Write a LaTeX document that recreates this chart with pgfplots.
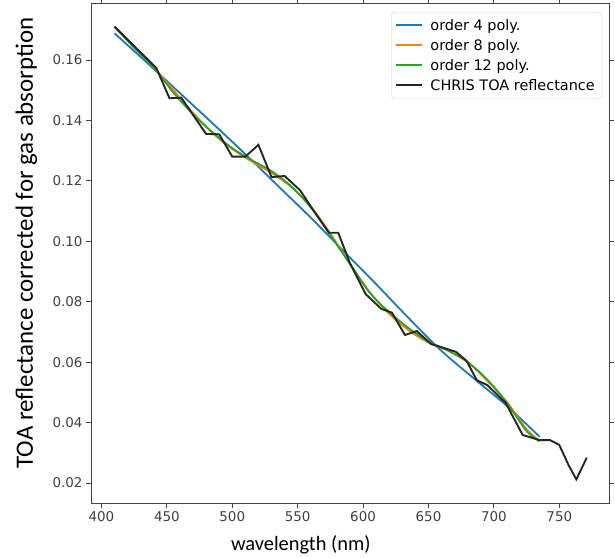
\documentclass[border=0pt]{standalone}
\usepackage{pgfplots}
\pgfplotsset{compat=1.18}
\usepackage{pgfplotstable}
\usepackage{fontspec}
\newfontfamily\dejavu{DejaVu Sans}
\newfontfamily\calibri{Carlito}

\definecolor{mplblue}{HTML}{1F77B4}
\definecolor{mplorange}{HTML}{FF7F0E}
\definecolor{mplgreen}{HTML}{2CA02C}
\definecolor{spine}{HTML}{444444}

% CHRIS TOA reflectance
\pgfplotstableread{
wl refl
410 0.1710
442 0.1573
452 0.1473
461 0.1475
480 0.1355
490 0.1354
500 0.1280
510 0.1280
520 0.1319
530 0.1212
540 0.1216
552 0.1168
560 0.1115
574 0.1028
581 0.1028
590 0.0927
602 0.0825
614 0.0776
622 0.0764
632 0.0690
641 0.0703
652 0.0660
661 0.0648
671 0.0634
679 0.0605
687 0.0540
695 0.0524
709 0.0465
722 0.0359
735 0.0342
743 0.0342
750 0.0326
757 0.0260
763 0.0212
771 0.0284
}\chris

\pgfplotstableread{
wl refl
410 0.1688
435 0.1590
460 0.1490
485 0.1390
510 0.1288
535 0.1183
560 0.1078
585 0.0968
610 0.0858
635 0.0745
660 0.0637
685 0.0545
710 0.0455
735 0.0353
}\polyfour

\pgfplotstableread{
wl refl
410 0.1708
425 0.1645
440 0.1575
455 0.1500
470 0.1425
485 0.1358
500 0.1305
515 0.1264
530 0.1226
545 0.1180
560 0.1115
575 0.1025
590 0.0925
605 0.0832
620 0.0760
635 0.0705
650 0.0665
665 0.0638
680 0.0600
695 0.0538
710 0.0468
725 0.0378
735 0.0340
}\polyeight

\pgfplotstableread{
wl refl
410 0.1710
425 0.1640
440 0.1575
455 0.1492
470 0.1420
485 0.1360
500 0.1308
515 0.1268
530 0.1232
545 0.1182
560 0.1112
575 0.1020
590 0.0925
605 0.0830
620 0.0765
635 0.0712
650 0.0668
665 0.0638
680 0.0600
695 0.0542
710 0.0465
725 0.0372
735 0.0338
}\polytwelve

\begin{document}
\begin{tikzpicture}
\useasboundingbox (0,0) rectangle (615bp,558bp);
\begin{axis}[
    at={(91bp,55bp)}, anchor=south west,
    scale only axis,
    width=518bp, height=499bp,
    xmin=392, xmax=788,
    ymin=0.0134, ymax=0.1785,
    xtick={400,450,...,750},
    ytick={0.02,0.04,...,0.16},
    scaled y ticks=false,
    yticklabel style={/pgf/number format/.cd, fixed, fixed zerofill, precision=2},
    /pgf/number format/assume math mode=true,
    tick align=outside,
    major tick length=5bp,
    tick style={spine, line width=0.8bp},
    axis line style={spine, line width=1bp},
    ticklabel style={font=\dejavu\fontsize{13.5}{15}\selectfont, text=black!75},
    xlabel={wavelength (nm)},
    ylabel={TOA reflectance corrected for gas absorption},
    xlabel style={font=\calibri\fontsize{20.5}{24}\selectfont, at={(axis description cs:0.405,-0.0942)}, anchor=base},
    ylabel style={font=\calibri\fontsize{25}{29}\selectfont, at={(axis description cs:-0.112,0.521)}, anchor=base},
    legend cell align=left,
    legend style={at={(axis description cs:1,1)}, anchor=north east, xshift=-7bp, yshift=-8bp,
        draw=black!20, rounded corners=3bp, fill=white, font=\dejavu\fontsize{14.5}{17}\selectfont,
        row sep=3.5bp, inner xsep=5bp, inner ysep=5bp,
        /tikz/column 1/.style={column sep=6bp}},
    legend image code/.code={\fill[#1, draw=none, rounded corners=0pt] (0bp,-1bp) rectangle (26bp,1bp);},
]
\addplot[color=mplblue, line width=1.8bp, smooth] table[x=wl, y=refl] {\polyfour};
\addplot[color=mplorange, line width=1.8bp, smooth] table[x=wl, y=refl] {\polyeight};
\addplot[color=mplgreen, line width=1.8bp, smooth] table[x=wl, y=refl] {\polytwelve};
\addplot[color=black!85, line width=1.9bp] table[x=wl, y=refl] {\chris};
\legend{order 4 poly., order 8 poly., order 12 poly., CHRIS TOA reflectance}
\end{axis}
\end{tikzpicture}
\end{document}
